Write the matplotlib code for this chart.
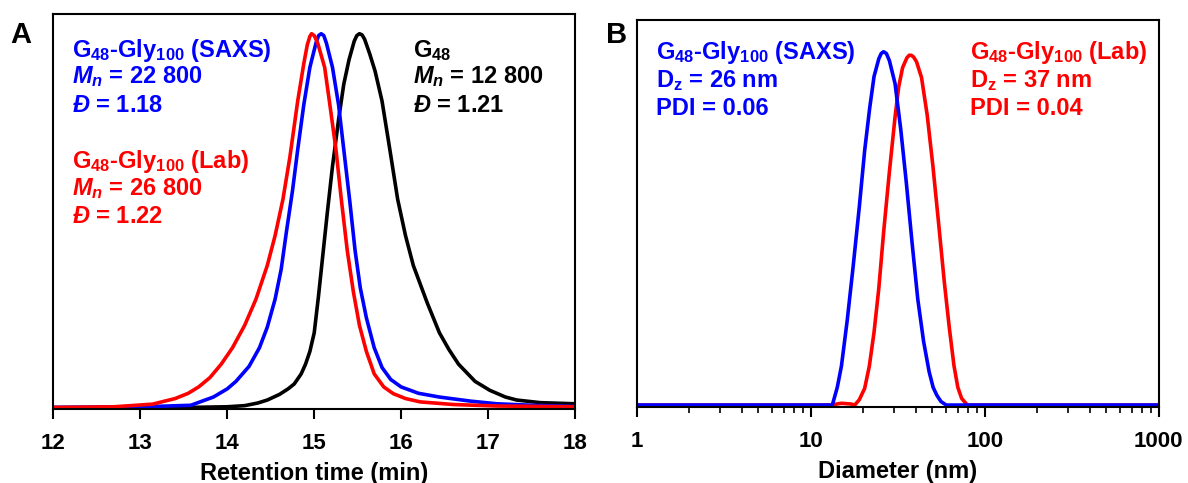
import matplotlib
matplotlib.use("Agg")
import matplotlib.pyplot as plt
from matplotlib.ticker import LogLocator, NullFormatter, FixedLocator

plt.rcParams['font.family'] = ['Liberation Sans', 'DejaVu Sans']
plt.rcParams['font.weight'] = 'bold'
plt.rcParams['mathtext.fontset'] = 'custom'
plt.rcParams['mathtext.rm'] = 'Liberation Sans:bold'
plt.rcParams['mathtext.bf'] = 'Liberation Sans:bold'
plt.rcParams['mathtext.it'] = 'Liberation Sans:bold:italic'

# --- panel A: SEC traces (normalised RI signal vs retention time) ---
t_g48 = [12, 13.5, 14.0, 14.2, 14.35, 14.46, 14.6, 14.7, 14.77, 14.85, 14.9, 14.95,
         15.0, 15.05, 15.1, 15.15, 15.21, 15.28, 15.34, 15.4, 15.46, 15.49, 15.52,
         15.55, 15.58, 15.64, 15.7, 15.78, 15.87, 15.96, 16.05, 16.14, 16.3, 16.44,
         16.55, 16.66, 16.85, 17.02, 17.2, 17.33, 17.6, 18.0]
y_g48 = [0, 0, 0.002, 0.005, 0.012, 0.02, 0.035, 0.05, 0.063, 0.09, 0.116, 0.15,
         0.2, 0.3, 0.41, 0.52, 0.645, 0.77, 0.865, 0.93, 0.98, 0.995, 1.0,
         0.997, 0.985, 0.945, 0.9, 0.82, 0.69, 0.557, 0.46, 0.38, 0.28, 0.2,
         0.155, 0.116, 0.07, 0.046, 0.028, 0.02, 0.013, 0.01]

t_saxs = [12, 13.05, 13.58, 13.84, 14.0, 14.1, 14.25, 14.37, 14.46, 14.55, 14.62,
          14.68, 14.75, 14.81, 14.88, 14.95, 15.02, 15.05, 15.08, 15.11, 15.14, 15.21,
          15.28, 15.34, 15.41, 15.47, 15.53, 15.6, 15.69, 15.78, 15.88, 16.0, 16.2,
          16.44, 16.8, 17.1, 17.5, 18.0]
y_saxs = [0, 0.002, 0.006, 0.028, 0.05, 0.07, 0.11, 0.16, 0.215, 0.29, 0.37,
          0.47, 0.58, 0.69, 0.81, 0.91, 0.975, 0.995, 1.0, 0.995, 0.975, 0.91,
          0.81, 0.69, 0.55, 0.42, 0.32, 0.24, 0.16, 0.107, 0.075, 0.055, 0.038,
          0.028, 0.017, 0.01, 0.006, 0.003]

t_lab = [12, 12.7, 13.14, 13.4, 13.55, 13.67, 13.8, 13.93, 14.06, 14.2, 14.33,
         14.46, 14.55, 14.64, 14.72, 14.81, 14.88, 14.92, 14.95, 14.97, 15.0, 15.04,
         15.12, 15.18, 15.25, 15.31, 15.38, 15.45, 15.52, 15.6, 15.69, 15.8, 15.91,
         16.05, 16.22, 16.6, 17.1, 18.0]
y_lab = [0, 0.002, 0.009, 0.024, 0.038, 0.055, 0.08, 0.116, 0.16, 0.22, 0.29,
         0.38, 0.46, 0.557, 0.67, 0.82, 0.92, 0.97, 0.993, 1.0, 0.995, 0.975,
         0.91, 0.81, 0.69, 0.56, 0.42, 0.31, 0.22, 0.15, 0.09, 0.055, 0.037,
         0.024, 0.015, 0.008, 0.004, 0.002]

# --- panel B: DLS size distributions ---
d_saxs = [1, 13.3, 14.2, 15.0, 16.2, 17.5, 19.0, 20.4, 21.8, 23.1, 24.6, 25.4, 26.2,
          27.2, 28.3, 30.5, 32.9, 35.4, 38.2, 41.2, 44.5, 47.9, 50.5, 53, 56, 60, 1000]
n_saxs = [0, 0, 0.05, 0.11, 0.24, 0.39, 0.56, 0.72, 0.84, 0.93, 0.98, 0.995, 1.0,
          0.995, 0.975, 0.91, 0.78, 0.63, 0.46, 0.30, 0.18, 0.094, 0.05, 0.028, 0.01,
          0, 0]

d_lab = [1, 13, 15, 17, 17.9, 19, 20.4, 21.7, 23.1, 24.6, 26.2, 28.3, 30.5, 32,
         33.7, 35.7, 36.8, 37.8, 39.0, 40.5, 43.3, 46.7, 50.4, 54.4, 58.6, 62.5,
         66.5, 70, 73.6, 79.4, 1000]
n_lab = [0, 0, 0.005, 0.003, 0, 0.015, 0.047, 0.11, 0.206, 0.33, 0.487, 0.66, 0.815,
         0.9, 0.955, 0.983, 0.99, 0.99, 0.985, 0.972, 0.927, 0.82, 0.674, 0.51, 0.346,
         0.22, 0.112, 0.05, 0.019, 0, 0]

BLUE = '#0000ff'
RED = '#ff0000'
LW = 2.6
FS = 17

fig = plt.figure(figsize=(11.88, 4.83), dpi=100)
axA = fig.add_axes([0.045, 0.1532, 0.439, 0.818])
axB = fig.add_axes([0.536, 0.157, 0.4394, 0.801])

axA.plot(t_g48, y_g48, color='black', lw=LW)
axA.plot(t_saxs, y_saxs, color=BLUE, lw=LW)
axA.plot(t_lab, y_lab, color=RED, lw=LW)
axA.set_xlim(12, 18)
axA.set_ylim(-0.004, 1.053)
axA.set_xticks(range(12, 19))
axA.set_xlabel('Retention time (min)', fontsize=FS, fontweight='bold', labelpad=6)

axB.plot(d_lab, n_lab, color=RED, lw=LW)
axB.plot(d_saxs, n_saxs, color=BLUE, lw=LW)
axB.set_xscale('log')
axB.set_xlim(1, 1000)
axB.set_ylim(-0.006, 1.089)
axB.xaxis.set_major_locator(FixedLocator([1, 10, 100, 1000]))
axB.set_xticklabels(['1', '10', '100', '1000'])
axB.xaxis.set_minor_locator(LogLocator(base=10, subs=range(2, 10)))
axB.xaxis.set_minor_formatter(NullFormatter())
axB.set_xlabel('Diameter (nm)', fontsize=FS, fontweight='bold', labelpad=6)

for ax in (axA, axB):
    ax.set_yticks([])
    for sp in ax.spines.values():
        sp.set_linewidth(1.5)
    ax.tick_params(axis='x', which='major', direction='out', length=7, width=1.5,
                   pad=10, labelsize=16)
    ax.tick_params(axis='x', which='minor', direction='out', length=4.5, width=1.2)
    for lab in ax.get_xticklabels():
        lab.set_fontweight('bold')

fig.text(0.009, 0.911, 'A', fontsize=21, fontweight='bold', va='baseline')
fig.text(0.510, 0.911, 'B', fontsize=21, fontweight='bold', va='baseline')

# annotations panel A
kw = dict(transform=axA.transAxes, fontsize=FS, fontweight='bold', va='baseline')
axA.text(0.035, 0.891, r'G$_{48}$-Gly$_{100}$ (SAXS)', color=BLUE, **kw)
axA.text(0.035, 0.825, r'$\mathit{M_n}$ = 22 800', color=BLUE, **kw)
axA.text(0.035, 0.752, r'$\mathit{Đ}$ = 1.18', color=BLUE, **kw)
axA.text(0.035, 0.610, r'G$_{48}$-Gly$_{100}$ (Lab)', color=RED, **kw)
axA.text(0.035, 0.542, r'$\mathit{M_n}$ = 26 800', color=RED, **kw)
axA.text(0.035, 0.471, r'$\mathit{Đ}$ = 1.22', color=RED, **kw)
axA.text(0.689, 0.891, r'G$_{48}$', color='black', **kw)
axA.text(0.689, 0.825, r'$\mathit{M_n}$ = 12 800', color='black', **kw)
axA.text(0.689, 0.752, r'$\mathit{Đ}$ = 1.21', color='black', **kw)

# annotations panel B
kw = dict(transform=axB.transAxes, fontsize=FS, fontweight='bold', va='baseline')
axB.text(0.036, 0.899, r'G$_{48}$-Gly$_{100}$ (SAXS)', color=BLUE, **kw)
axB.text(0.036, 0.827, r'D$_{\mathrm{z}}$ = 26 nm', color=BLUE, **kw)
axB.text(0.036, 0.755, 'PDI = 0.06', color=BLUE, **kw)
axB.text(0.638, 0.899, r'G$_{48}$-Gly$_{100}$ (Lab)', color=RED, **kw)
axB.text(0.638, 0.827, r'D$_{\mathrm{z}}$ = 37 nm', color=RED, **kw)
axB.text(0.638, 0.755, 'PDI = 0.04', color=RED, **kw)

fig.savefig('out.png', dpi=100)
